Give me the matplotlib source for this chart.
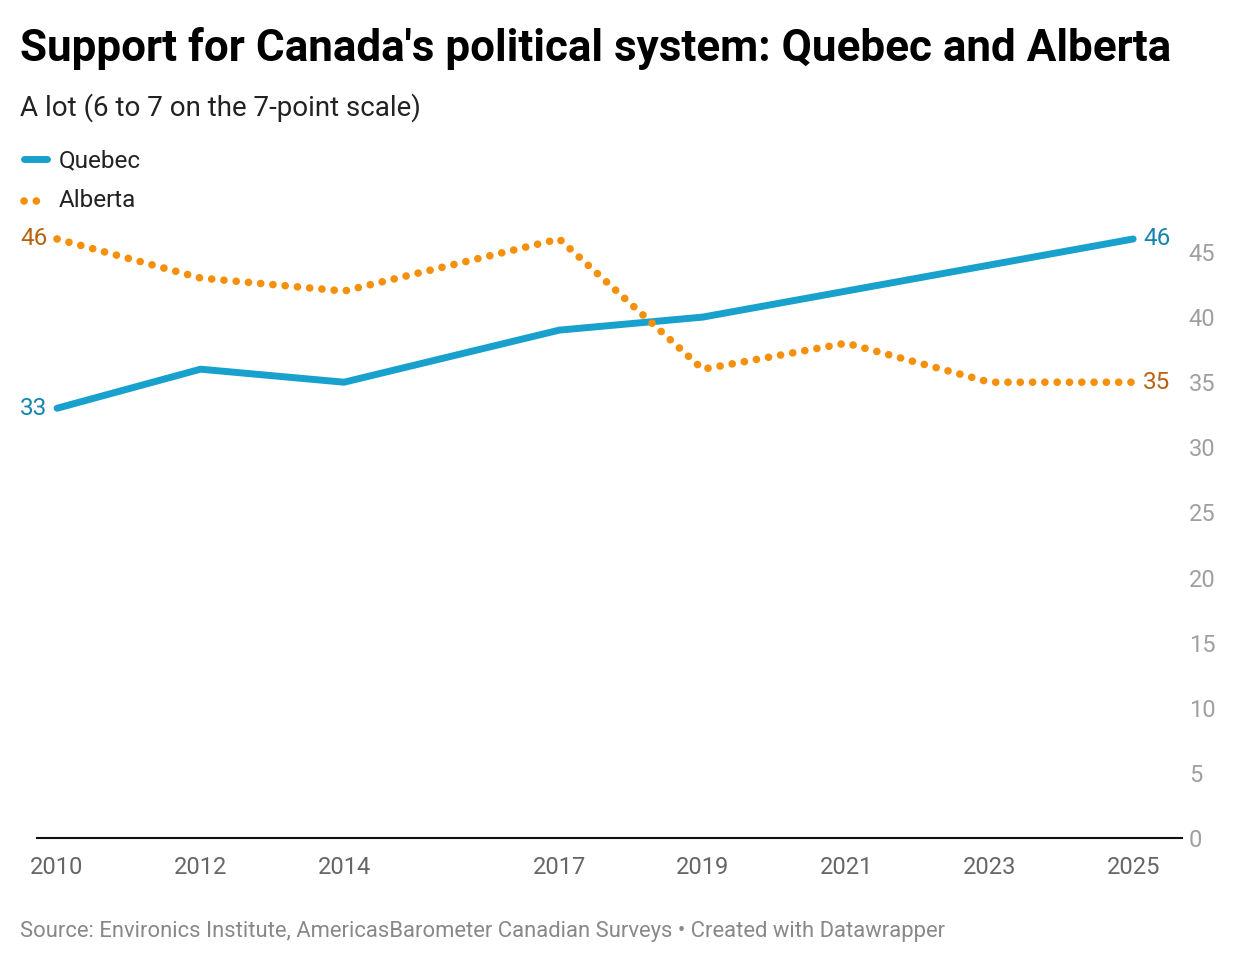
import matplotlib
matplotlib.use("Agg")
import matplotlib.pyplot as plt

# datos
years = [2010, 2012, 2014, 2017, 2019, 2021, 2023, 2025]
quebec = [33, 36, 35, 39, 40, 42, 44, 46]
alberta = [46, 43, 42, 46, 36, 38, 35, 35]
yticks = [0, 5, 10, 15, 20, 25, 30, 35, 40, 45]

plt.rcParams['font.family'] = ['Roboto', 'DejaVu Sans']

blue = '#18a1cd'
orange = '#f5900c'
blue_txt = '#1585ad'
orange_txt = '#b9620f'

fig = plt.figure(figsize=(12.4, 9.66), dpi=100)
ax = fig.add_axes([0.0298, 0.1325, 0.9234, 0.6398])

ax.plot(years, quebec, color=blue, lw=5, solid_capstyle='round', zorder=3)
ax.plot(years, alberta, color=orange, lw=5.5, linestyle=(0, (0.01, 1.6)),
        dash_capstyle='round', zorder=3)

ax.set_xlim(2009.72, 2025.68)
ax.set_ylim(0, 47.46)

ax.set_xticks(years)
ax.set_xticklabels([str(y) for y in years])
ax.set_yticks(yticks)
ax.yaxis.tick_right()
ax.tick_params(axis='x', length=0, pad=13, labelsize=17, labelcolor='#666666')
ax.tick_params(axis='y', length=0, pad=5, labelsize=17, labelcolor='#a0a0a0')
for lab in ax.get_yticklabels():
    lab.set_horizontalalignment('left')

for s in ['top', 'left', 'right']:
    ax.spines[s].set_visible(False)
ax.spines['bottom'].set_linewidth(1.5)
ax.spines['bottom'].set_color('#111111')

# etiquetas de inicio y final
ax.annotate(str(quebec[0]), (years[0], quebec[0]), xytext=(-7, 0), textcoords='offset points',
            ha='right', va='center', fontsize=17.5, color=blue_txt)
ax.annotate(str(alberta[0]), (years[0], alberta[0]), xytext=(-7, 0), textcoords='offset points',
            ha='right', va='center', fontsize=17.5, color=orange_txt)
ax.annotate(str(quebec[-1]), (years[-1], quebec[-1]), xytext=(7, 0), textcoords='offset points',
            ha='left', va='center', fontsize=17.5, color=blue_txt)
ax.annotate(str(alberta[-1]), (years[-1], alberta[-1]), xytext=(7, 0), textcoords='offset points',
            ha='left', va='center', fontsize=17.5, color=orange_txt)

# títulos
fig.text(0.016, 0.950, "Support for Canada's political system: Quebec and Alberta",
         fontsize=31.7, fontweight='bold', color='#000000', va='center')
fig.text(0.016, 0.889, "A lot (6 to 7 on the 7-point scale)", fontsize=20,
         color='#222222', va='center')

# leyenda manual
fig.lines.append(plt.Line2D([0.019, 0.038], [0.835, 0.835], transform=fig.transFigure,
                            color=blue, lw=5, solid_capstyle='round'))
fig.lines.append(plt.Line2D([0.0194, 0.0305], [0.792, 0.792], transform=fig.transFigure,
                            color=orange, lw=5.5, linestyle=(0, (0.01, 1.6)),
                            dash_capstyle='round'))
fig.text(0.047, 0.834, "Quebec", fontsize=17.5, color='#222222', va='center')
fig.text(0.047, 0.792, "Alberta", fontsize=17.5, color='#222222', va='center')

fig.text(0.016, 0.036,
         "Source: Environics Institute, AmericasBarometer Canadian Surveys \u2022 Created with Datawrapper",
         fontsize=15.8, color='#888888', va='center')

plt.savefig('out.png', dpi=100)
